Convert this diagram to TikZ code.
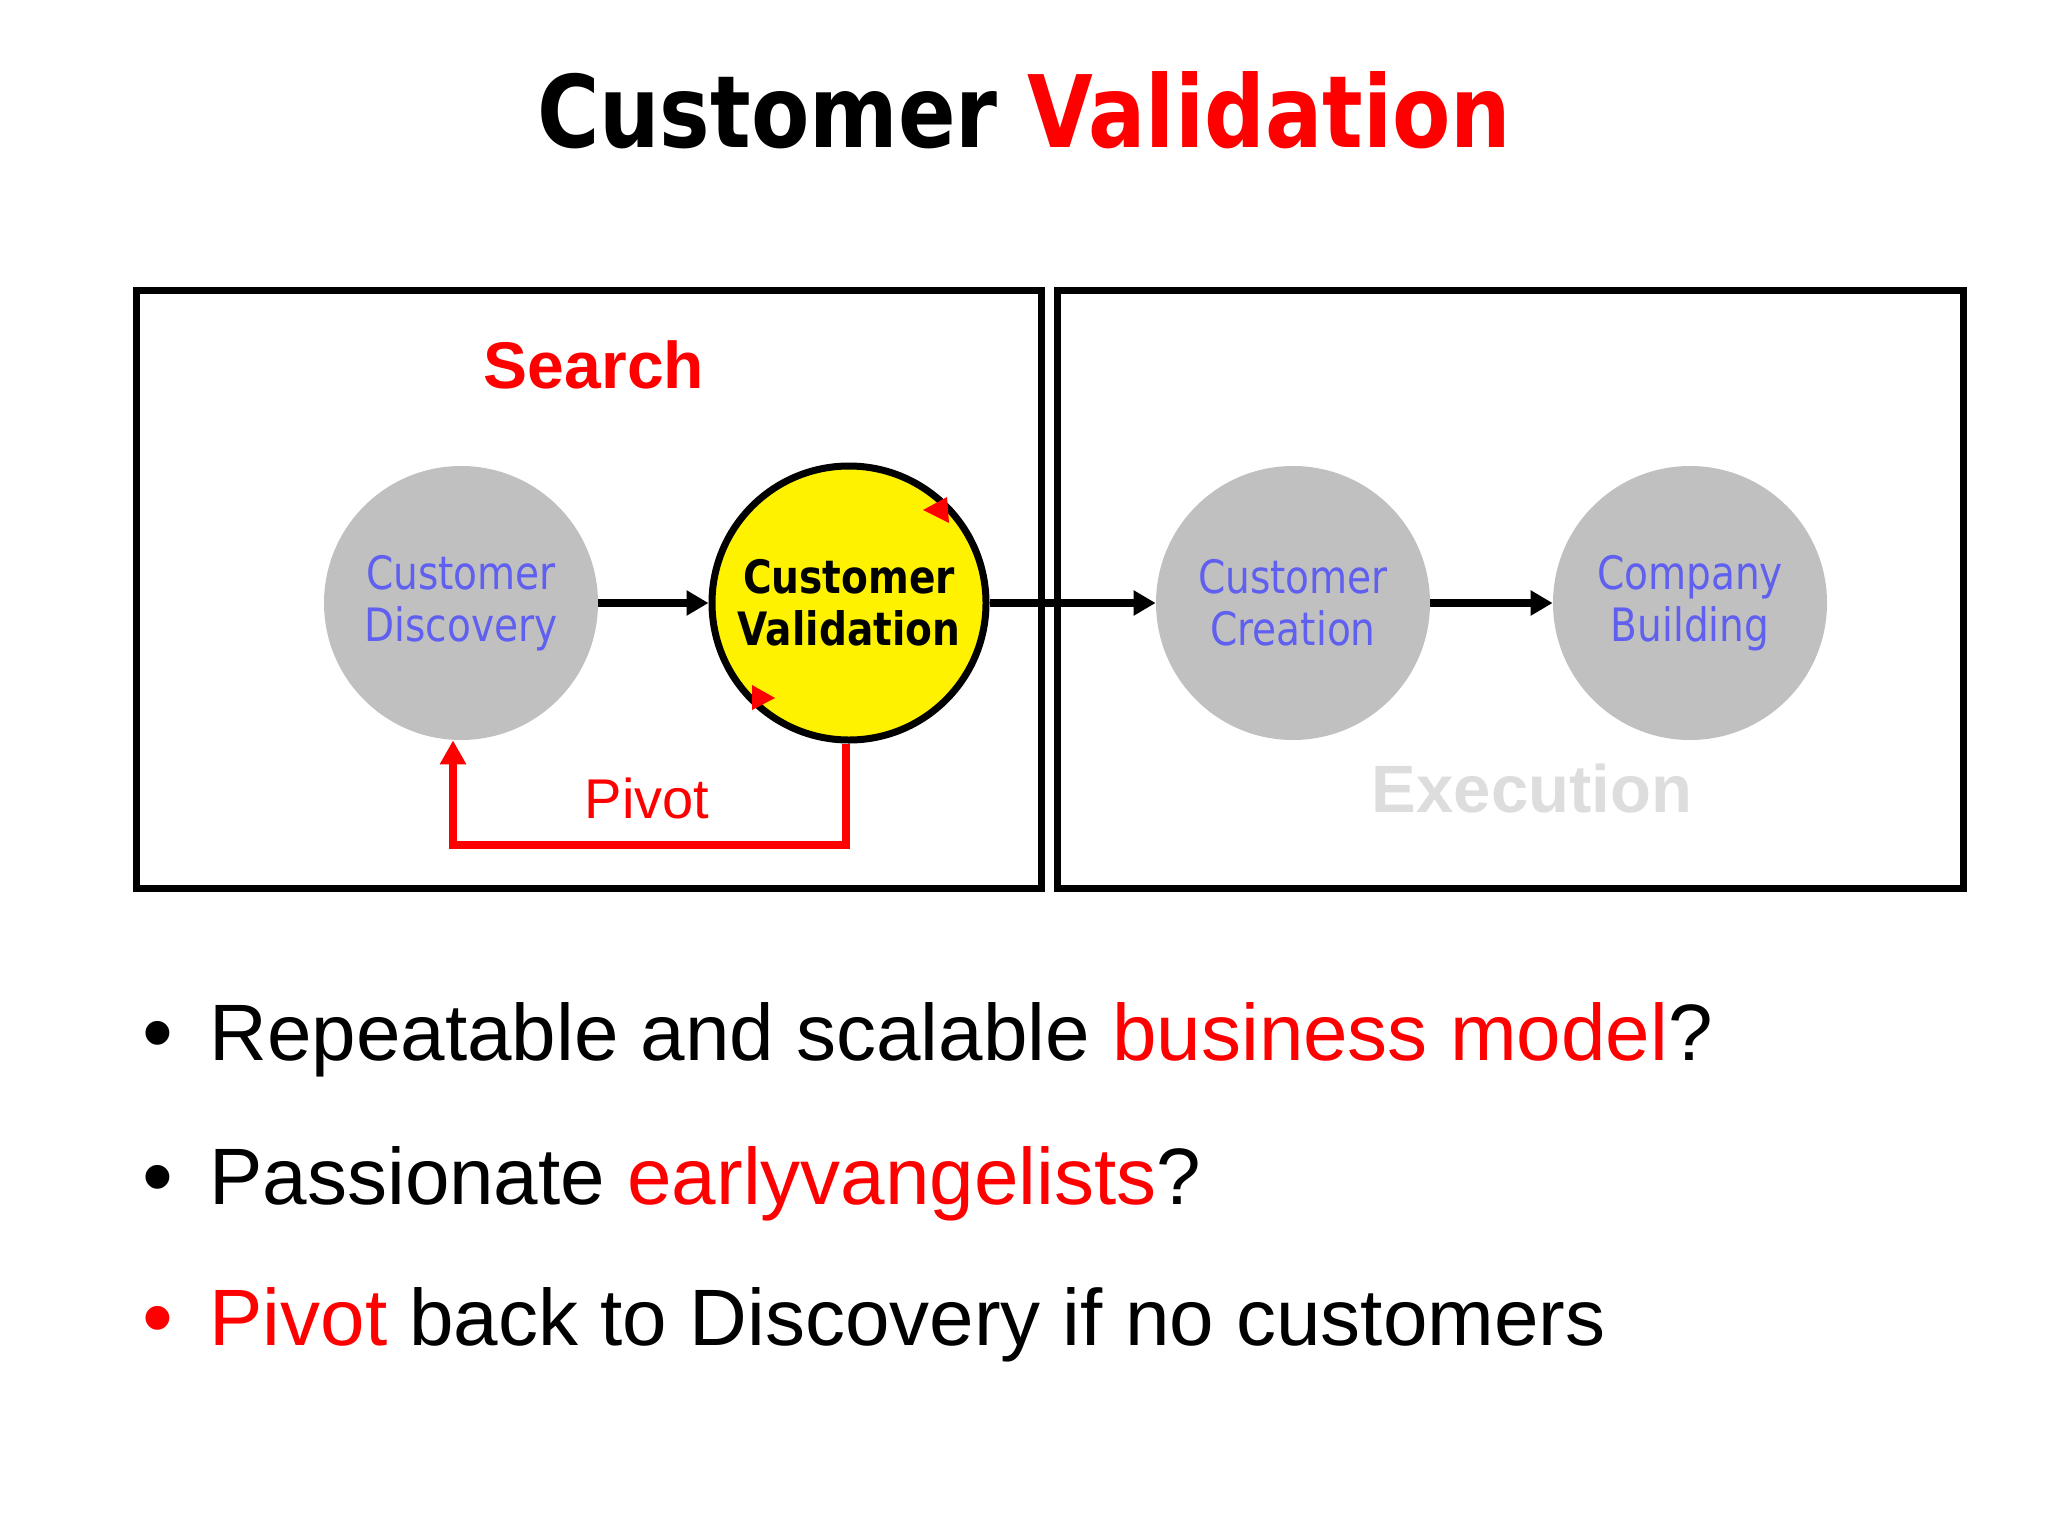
\documentclass[tikz,border=0pt]{standalone}
\usepackage{fontspec}
\setmainfont{Liberation Sans}
\newfontfamily\tahoma[FakeStretch=0.85]{DejaVu Sans}
\usetikzlibrary{arrows.meta}
\usetikzlibrary{positioning}
\definecolor{stagegray}{RGB}{192,192,192}
\definecolor{stageblue}{RGB}{96,96,240}
\definecolor{execgray}{RGB}{221,221,221}
\definecolor{slidered}{RGB}{255,0,0}

\begin{document}
\begin{tikzpicture}[x=0.5pt,y=-0.5pt]
  \tikzset{stage/.style = {shape=circle,minimum size=137pt,inner sep=0pt,fill=stagegray,text=stageblue,align=center,font=\tahoma\fontsize{23}{26}\selectfont}}
  \tikzset{curstage/.style = {stage,draw,line width=3.5pt,fill=yellow,text=black,font=\tahoma\bfseries\fontsize{23}{26}\selectfont}}
  \tikzset{phasebox/.style = {shape=rectangle,draw,line width=3.5pt,inner sep=0pt}}
  \tikzset{plain/.style = {inner sep=0pt,anchor=base}}
  \tikzset{stepedge/.style = {-tipA,line width=4pt}}
  \tikzset{pivotedge/.style = {-tipB,line width=4pt,slidered}}
  \tikzset{%
  tipA/.tip={Triangle[length=11pt,width=12pt]},
  tipB/.tip={Triangle[length=12pt,width=12.5pt]},
}
  \useasboundingbox (0,0) rectangle (2048,1536);

	\node[plain] (title) at (1024,148) {\tahoma\bfseries\fontsize{50}{60}\selectfont Customer \textcolor{slidered}{Validation}};

	% the two phases
	\node[phasebox,minimum width=452.5pt,minimum height=299pt] (searchbox) at (588.5,589) {};
	\node[phasebox,minimum width=453pt,minimum height=299pt] (execbox) at (1510,589) {};
	\node[plain,text=slidered,font=\bfseries\fontsize{33}{40}\selectfont] (search) at (594,388) {Search};
	\node[plain,text=execgray,font=\bfseries\fontsize{33.5}{40}\selectfont] (exec) at (1532,812) {Execution};

	\node[stage] (CD) at (461,603) {Customer\\Discovery};
	\node[curstage] (CV) at (849,603) {Customer\\Validation};
	\node[stage] (CC) at (1293,603) {Customer\\Creation};
	\node[stage] (CB) at (1690,603) {Company\\Building};

    \foreach \from/\to in {CD/CV,CV/CC,CC/CB}
    \draw[stepedge] (\from) -- (\to);

	% turning marks on the validation circle
	\fill[slidered] (923,510) -- (947,497) -- (949,523) -- cycle;
	\fill[slidered] (775,698) -- (752,685) -- (752,710) -- cycle;

	\draw[pivotedge] ([xshift=-1.5pt]CV.south) -- ++(0,101) -| ([xshift=-4pt]CD.south);
	\node[plain,text=slidered,font=\fontsize{28}{34}\selectfont] (pivot) at (647,818) {Pivot};

	% bullets
	\node[plain,font=\fontsize{44}{48}\selectfont] (m1) at (158,1062) {•};
	\node[plain,anchor=base west,font=\fontsize{40}{48}\selectfont] (t1) at (209,1060) {Repeatable and scalable \textcolor{slidered}{business model}?};
	\node[plain,font=\fontsize{44}{48}\selectfont] (m2) at (158,1206) {•};
	\node[plain,anchor=base west,font=\fontsize{40}{48}\selectfont] (t2) at (209,1204) {Passionate \textcolor{slidered}{earlyvangelists}?};
	\node[plain,text=slidered,font=\fontsize{44}{48}\selectfont] (m3) at (158,1347) {•};
	\node[plain,anchor=base west,font=\fontsize{40}{48}\selectfont] (t3) at (209,1345) {\textcolor{slidered}{Pivot} back to Discovery if no customers};

\end{tikzpicture}
\end{document}
